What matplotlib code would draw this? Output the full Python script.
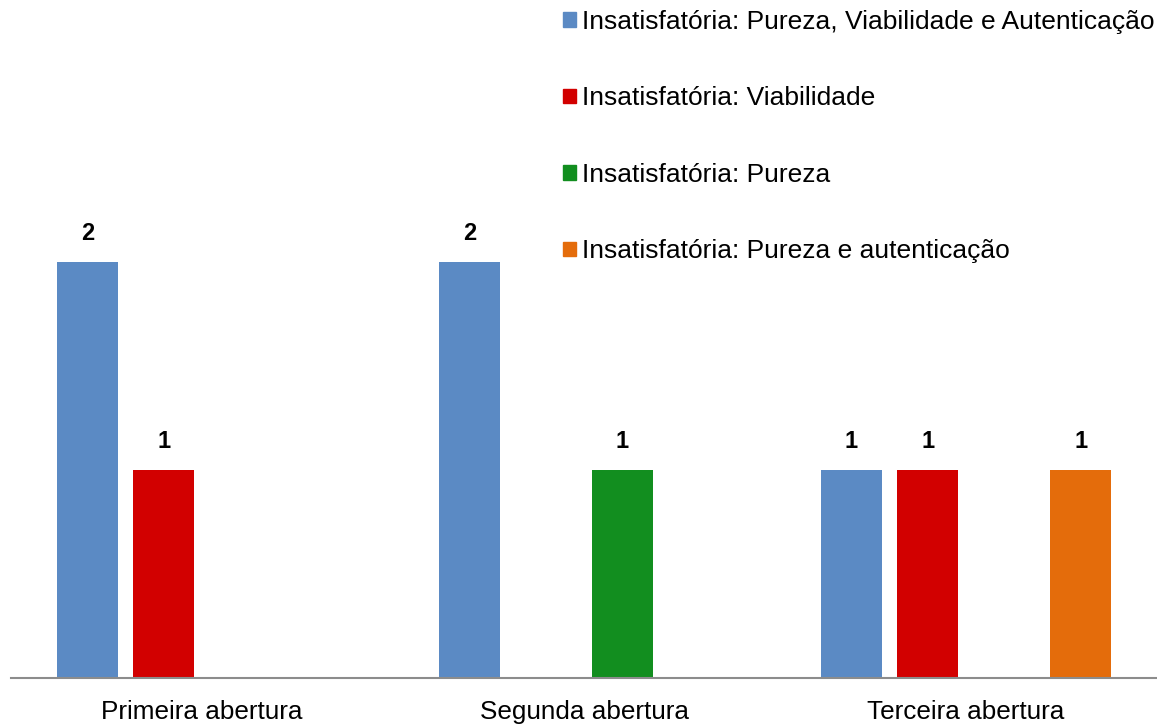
import numpy as np
import matplotlib.pyplot as plt
from matplotlib.patches import Patch

plt.rcParams['font.family'] = ['Liberation Sans', 'DejaVu Sans']

categories = ['Primeira abertura', 'Segunda abertura', 'Terceira abertura']
series = [
    'Insatisfatória: Pureza, Viabilidade e Autenticação',
    'Insatisfatória: Viabilidade',
    'Insatisfatória: Pureza',
    'Insatisfatória: Pureza e autenticação',
]
values = [
    [2, 2, 1],
    [1, 0, 1],
    [0, 1, 0],
    [0, 0, 1],
]
colors = ['#5b8ac4', '#d20000', '#128e1f', '#e46c0b']

fig = plt.figure(figsize=(11.57, 7.24), dpi=100)
ax = fig.add_axes([11 / 1157, 46 / 724, 1146 / 1157, 624 / 724])

x = np.arange(len(categories))
step = 0.2
width = 0.16
for i, (name, vals, col) in enumerate(zip(series, values, colors)):
    bars = ax.bar(x + (i - 1.5) * step, vals, width, color=col, label=name)
    ax.bar_label(bars, labels=[str(v) if v else '' for v in vals],
                 padding=12, fontsize=17, fontweight='bold')

ax.set_xlim(-0.5, len(categories) - 0.5)
ax.set_ylim(0, 3)
ax.set_xticks(x)
ax.set_xticklabels(categories, fontsize=18.8)
ax.tick_params(axis='x', length=0, pad=15.5)
ax.set_yticks([])
for side in ('left', 'right', 'top'):
    ax.spines[side].set_visible(False)
ax.spines['bottom'].set_color('#8c8c8c')
ax.spines['bottom'].set_linewidth(1.5)

handles = [Patch(color=c) for c in colors]
fig.legend(handles, series, loc='upper left',
           bbox_to_anchor=(555 / 1157, 1 - 2 / 724),
           frameon=False, fontsize=19, handlelength=0.5, handleheight=0.45,
           handletextpad=0.22, labelspacing=1.99, borderaxespad=0, borderpad=0.3)

fig.savefig('out.png', dpi=100)
